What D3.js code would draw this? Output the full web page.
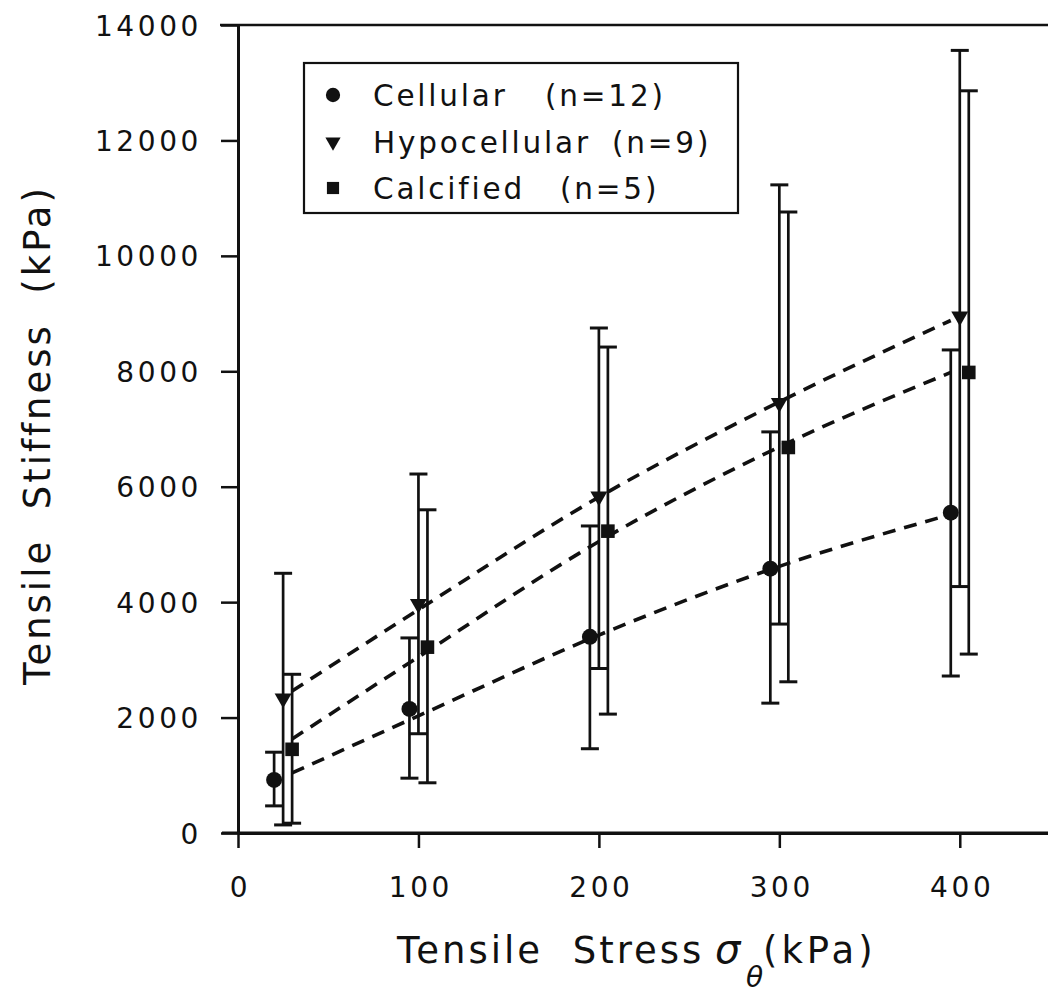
<!DOCTYPE html>
<html>
<head>
<meta charset="utf-8">
<script src="https://cdn.jsdelivr.net/npm/d3@7"></script>
<style>
  html, body { margin: 0; padding: 0; background: #fff; }
  svg { display: block; font-family: "DejaVu Sans", sans-serif; }
</style>
</head>
<body>
<svg id="chart" width="1048" height="993"></svg>
<script>
// Stress levels (kPa) at which stiffness was measured
const stressLevels = [25, 100, 200, 300, 400];

// Mean tensile stiffness (kPa) per group
const cellularMean     = [920, 2150, 3400, 4580, 5550];
const hypocellularMean = [2330, 3970, 5830, 7450, 8950];
const calcifiedMean    = [1450, 3220, 5230, 6680, 7980];

// Error bar extents (kPa): upper and lower ends
const cellularHigh     = [1400, 3380, 5320, 6950, 8370];
const cellularLow      = [470, 950, 1460, 2250, 2720];
const hypocellularHigh = [4500, 6220, 8750, 11230, 13560];
const hypocellularLow  = [140, 1720, 2850, 3620, 4270];
const calcifiedHigh    = [2750, 5600, 8420, 10760, 12860];
const calcifiedLow     = [170, 870, 2060, 2620, 3100];

// Fitted trend curves, read as (stress, stiffness) pairs
const fitStress        = [30, 100, 200, 300, 395];
const cellularFit      = [1040, 2030, 3430, 4620, 5520];
const hypocellularFit  = [2460, 3870, 5820, 7470, 8880];
const calcifiedFit     = [1630, 3050, 5050, 6690, 7980];

// Axis ticks
const xTicks = [0, 100, 200, 300, 400];
const yTicks = [0, 2000, 4000, 6000, 8000, 10000, 12000, 14000];

// Legend labels
const legendNames  = ["Cellular", "Hypocellular", "Calcified"];
const legendCounts = ["(n=12)", "(n=9)", "(n=5)"];

const series = [
  { mean: cellularMean, hi: cellularHigh, lo: cellularLow, fit: cellularFit, symbol: d3.symbolCircle, size: 200, dodge: -9, countX: 545 },
  { mean: hypocellularMean, hi: hypocellularHigh, lo: hypocellularLow, fit: hypocellularFit, symbol: d3.symbolTriangle, size: 125, dodge: 0, flip: true, countX: 612 },
  { mean: calcifiedMean, hi: calcifiedHigh, lo: calcifiedLow, fit: calcifiedFit, symbol: d3.symbolSquare, size: 185, dodge: 9, countX: 560 }
];

const svg = d3.select("#chart");
svg.append("rect").attr("width", 1048).attr("height", 993).attr("fill", "#fff");

const x = d3.scaleLinear().domain([0, 450]).range([238, 1050]);
const y = d3.scaleLinear().domain([0, 14000]).range([833, 25]);

const ink = "#111";

// Frame: top border and axes
svg.append("line")
  .attr("x1", 220).attr("x2", 1048)
  .attr("y1", y(14000)).attr("y2", y(14000))
  .attr("stroke", ink).attr("stroke-width", 2.5);

const yAxis = svg.append("g")
  .attr("transform", `translate(${x(0)},0)`)
  .call(d3.axisLeft(y).tickValues(yTicks).tickFormat(d3.format("d"))
    .tickSize(17).tickSizeOuter(0).tickPadding(19));
yAxis.select(".domain").attr("stroke", ink).attr("stroke-width", 3);
yAxis.selectAll(".tick line").attr("stroke", ink).attr("stroke-width", 2.5);
yAxis.selectAll(".tick text")
  .attr("fill", ink).attr("font-size", 28).attr("letter-spacing", 3.6)
  .attr("dy", "0.36em").attr("font-family", "DejaVu Sans, sans-serif");

const xAxis = svg.append("g")
  .attr("transform", `translate(0,${y(0)})`)
  .call(d3.axisBottom(x).tickValues(xTicks).tickFormat(d3.format("d"))
    .tickSize(15).tickSizeOuter(0).tickPadding(29));
xAxis.select(".domain").attr("stroke", ink).attr("stroke-width", 3);
xAxis.selectAll(".tick line").attr("stroke", ink).attr("stroke-width", 2.5);
xAxis.selectAll(".tick text")
  .attr("fill", ink).attr("font-size", 28).attr("letter-spacing", 3.6)
  .attr("dx", "0.07em").attr("font-family", "DejaVu Sans, sans-serif");
// extend baseline to the left of the vertical axis
svg.append("line")
  .attr("x1", 222).attr("x2", 1048)
  .attr("y1", y(0)).attr("y2", y(0))
  .attr("stroke", ink).attr("stroke-width", 3);

// Dashed fitted curves
const fitLine = d3.line()
  .x((d, i) => x(fitStress[i]))
  .y(d => y(d))
  .curve(d3.curveMonotoneX);

series.forEach(s => {
  svg.append("path")
    .datum(s.fit)
    .attr("d", fitLine)
    .attr("fill", "none")
    .attr("stroke", ink)
    .attr("stroke-width", 3.6)
    .attr("stroke-dasharray", "13,9");
});

// Error bars and markers
const capHalf = 9;
series.forEach(s => {
  const g = svg.append("g");
  stressLevels.forEach((v, i) => {
    const cx = x(v) + s.dodge;
    g.append("line")
      .attr("x1", cx).attr("x2", cx)
      .attr("y1", y(s.hi[i])).attr("y2", y(s.lo[i]))
      .attr("stroke", ink).attr("stroke-width", 2.7);
    [s.hi[i], s.lo[i]].forEach(e => {
      g.append("line")
        .attr("x1", cx - capHalf).attr("x2", cx + capHalf)
        .attr("y1", y(e)).attr("y2", y(e))
        .attr("stroke", ink).attr("stroke-width", 3);
    });
    g.append("path")
      .attr("d", d3.symbol().type(s.symbol).size(s.size)())
      .attr("transform", `translate(${cx},${y(s.mean[i])})${s.flip ? " rotate(180)" : ""}`)
      .attr("fill", ink);
  });
});

// Legend
const legend = svg.append("g");
legend.append("rect")
  .attr("x", 304).attr("y", 63).attr("width", 434).attr("height", 150)
  .attr("fill", "#fff").attr("stroke", ink).attr("stroke-width", 2.2);
const rowY = [95, 142, 188];
series.forEach((s, i) => {
  legend.append("path")
    .attr("d", d3.symbol().type(s.symbol).size(s.size * 0.8)())
    .attr("transform", `translate(333,${rowY[i]})${s.flip ? " rotate(180)" : ""}`)
    .attr("fill", ink);
  legend.append("text")
    .attr("x", 373).attr("y", rowY[i])
    .attr("dy", "0.36em")
    .attr("font-size", 29.5).attr("letter-spacing", 2.8)
    .attr("fill", ink)
    .text(legendNames[i]);
  legend.append("text")
    .attr("x", s.countX).attr("y", rowY[i])
    .attr("dy", "0.36em")
    .attr("font-size", 29.5).attr("letter-spacing", 2.8)
    .attr("fill", ink)
    .text(legendCounts[i]);
});

// Axis titles
svg.append("text")
  .attr("transform", "translate(50,435) rotate(-90)")
  .attr("text-anchor", "middle")
  .attr("font-size", 37).attr("letter-spacing", 3)
  .attr("fill", ink)
  .style("white-space", "pre")
  .text("Tensile  Stiffness  (kPa)");

const xt = svg.append("text")
  .attr("y", 963)
  .attr("font-size", 37).attr("letter-spacing", 3)
  .attr("fill", ink)
  .style("white-space", "pre");
xt.append("tspan").attr("x", 397).text("Tensile  Stress");
xt.append("tspan").attr("x", 715).attr("font-style", "italic").attr("font-size", 40).text("σ");
xt.append("tspan").attr("x", 746).attr("dy", 24).attr("font-style", "italic").attr("font-size", 28).text("θ");
xt.append("tspan").attr("x", 763).attr("dy", -24).attr("letter-spacing", 4).text("(kPa)");
</script>
</body>
</html>
